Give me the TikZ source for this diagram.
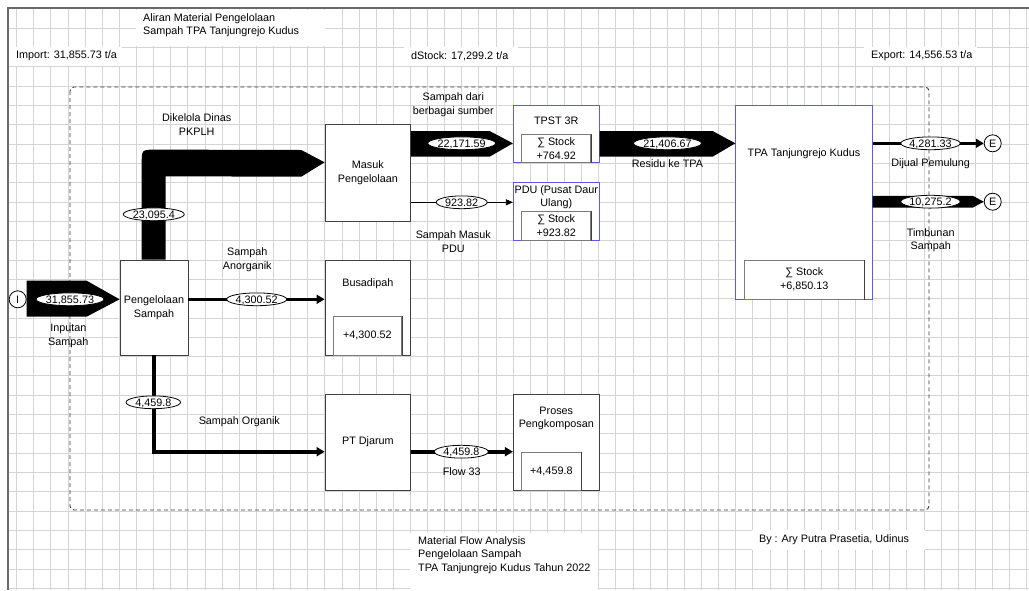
\documentclass[tikz,border=0pt]{standalone}
\usepackage{fontspec}
\setmainfont{Liberation Sans}
\usetikzlibrary{shapes.geometric,arrows.meta,calc}
\definecolor{gridc}{HTML}{D4D4D4}
\definecolor{framec}{HTML}{6A6A6A}
\definecolor{boxc}{HTML}{404040}
\definecolor{bluec}{HTML}{5A5AF0}
\definecolor{stockc}{HTML}{7A7A7A}
\definecolor{bndc}{HTML}{3A3A3A}
\begin{document}
\begin{tikzpicture}[x=1pt,y=-1pt,
  font=\fontsize{10.8}{13.8}\selectfont,
  procbox/.style={draw=boxc,fill=white,line width=0.8pt,inner sep=0pt},
  bluebox/.style={procbox,draw=bluec},
  stockbox/.style={draw=stockc,fill=white,line width=1pt,inner sep=0pt},
  shade/.style={draw=boxc,line width=1.2pt},
  lbl/.style={ellipse,draw=black,fill=white,line width=0.8pt,inner sep=0pt,minimum height=12.8pt,text height=7.6pt,text depth=0pt},
  txt/.style={align=center,inner sep=0pt},
  endpt/.style={circle,draw=black,fill=white,line width=0.8pt,minimum size=17pt,inner sep=0pt},
  thickflow/.style={line width=3.6pt,-{Triangle[length=8pt,width=9pt]}},
  thinflow/.style={line width=0.8pt,-{Triangle[length=7pt,width=6pt]}},
  bnd/.style={draw=bndc,line width=0.9pt,dash pattern=on 4pt off 3pt,rounded corners=4pt}]
\useasboundingbox (0,0) rectangle (1029,590);
\fill[white] (0,0) rectangle (1029,590);
% grid
\foreach \k in {0,...,59} {\draw[gridc,line width=0.9pt] ({16.7+17.12*\k},8) -- ({16.7+17.12*\k},590);}
\foreach \k in {0,...,29} {\draw[gridc,line width=0.9pt] (8,{28.3+19.31*\k}) -- (1029,{28.3+19.31*\k});}
% frame
\draw[framec,line width=1.3pt] (8,590) -- (8,8) -- (1029,8);
% white text boxes
\fill[white] (135.7,10) rectangle (325,45.7);
\node[txt,align=left,anchor=north west] (title) at (143,13) {Aliran Material Pengelolaan\\Sampah TPA Tanjungrejo Kudus};
\fill[white] (9,46.5) rectangle (122,65.5);
\node[txt,anchor=west] (import) at (16,56) {Import: 31,855.73 t/a};
\fill[white] (404,46.5) rectangle (518,65.5);
\node[txt,anchor=west] (dstock) at (411,56) {dStock: 17,299.2 t/a};
\fill[white] (864,46.5) rectangle (977,65.5);
\node[txt,anchor=west] (export) at (871,56) {Export: 14,556.53 t/a};
\fill[white] (410,533) rectangle (598,590);
\node[txt,align=left,anchor=north west] (mfa) at (418,536) {Material Flow Analysis\\Pengelolaan Sampah\\TPA Tanjungrejo Kudus Tahun 2022};
\fill[white] (752,530) rectangle (925,550);
\node[txt] (by) at (834,540) {By : Ary Putra Prasetia, Udinus};
% system boundary
\draw[bnd] (70,87) rectangle (929,510);
% flow positions
\coordinate (f22) at (461.7,143.3);
\coordinate (f21) at (667.5,143.3);
\coordinate (f923) at (461.7,202.3);
\coordinate (f43) at (256.7,299.3);
\coordinate (f33) at (461.3,451.7);
% processes
\node[procbox,minimum width=68pt,minimum height=95pt] (pen) at (154,307.5) {};
\node[procbox,minimum width=85.7pt,minimum height=97pt] (masuk) at (367.85,172.5) {};
\node[procbox,minimum width=85.7pt,minimum height=94.3pt] (busa) at (367.85,307.85) {};
\node[procbox,minimum width=85.7pt,minimum height=95.7pt] (ptd) at (367.85,442.15) {};
\node[procbox,minimum width=86pt,minimum height=95.7pt] (proses) at (556.3,442.15) {};
\node[bluebox,minimum width=86pt,minimum height=57.7pt] (tpst) at (556.3,133.85) {};
\node[bluebox,minimum width=86pt,minimum height=57.7pt] (pdu) at (556.3,211.15) {};
\node[bluebox,minimum width=136.6pt,minimum height=194pt] (tpa) at (804,202) {};
% stock boxes
\node[stockbox,minimum width=68.7pt,minimum height=38.3pt] (sbusa) at (367.35,335.85) {+4,300.52};
\node[stockbox,minimum width=59.3pt,minimum height=37.7pt] (sproses) at (551.35,471.15) {+4,459.8};
\node[stockbox,minimum width=69pt,minimum height=28.4pt,align=center] (stpst) at (556.2,148.5) {∑ Stock\\+764.92};
\node[stockbox,minimum width=69pt,minimum height=28.3pt,align=center] (spdu) at (556.2,225.85) {∑ Stock\\+923.82};
\node[stockbox,minimum width=120pt,minimum height=39pt,align=center] (stpa) at (804.3,279.5) {∑ Stock\\+6,850.13};
\foreach \s in {sbusa,sproses,stpst,spdu,stpa} {\draw[shade] (\s.north east) -- (\s.south east);}
% process titles
\node[txt] at (pen.center) {Pengelolaan\\Sampah};
\node[txt] at (masuk.center) {Masuk\\Pengelolaan};
\node[txt] at (367.85,284) {Busadipah};
\node[txt] at (ptd.center) {PT Djarum};
\node[txt] at (556.3,418.3) {Proses\\Pengkomposan};
\node[txt] at (556.3,120.7) {TPST 3R};
\node[txt] at (556.3,197.2) {PDU (Pusat Daur\\Ulang)};
\node[txt] at (804,153.3) {TPA Tanjungrejo Kudus};
% end points
\node[endpt] (I) at (17.7,299.3) {I};
\node[endpt] (E1) at (992.7,143.3) {E};
\node[endpt] (E2) at (992.7,201.7) {E};
% flows
\fill ($(I.east)+(0,-18.6)$) -- ($(I.east)+(60,-18.6)$) -- (pen.west |- I) -- ($(I.east)+(60,17.4)$) -- ($(I.east)+(0,17.4)$) -- cycle;
\fill ($(pen.north)+(-12.3,0)$) -- ($(pen.north)+(-12.3,-96)$) .. controls ($(pen.north)+(-12.3,-110)$) .. ($(pen.north)+(2,-110)$) -- ($(masuk.west)+(-23.3,-22.5)$) -- ($(masuk.west)+(0,-10.2)$) -- ($(masuk.west)+(-23.3,4.2)$) -- ($(pen.north)+(11.7,-83.3)$) -- ($(pen.north)+(11.7,0)$) -- cycle;
\fill ($(masuk.east |- f22)+(0,-12.3)$) -- ($(tpst.west |- f22)+(-23.3,-12.3)$) -- (tpst.west |- f22) -- ($(tpst.west |- f22)+(-23.3,13.4)$) -- ($(masuk.east |- f22)+(0,13.4)$) -- cycle;
\fill ($(tpst.east |- f21)+(0,-12.3)$) -- ($(tpa.west |- f21)+(-22.7,-12.3)$) -- (tpa.west |- f21) -- ($(tpa.west |- f21)+(-22.7,13.4)$) -- ($(tpst.east |- f21)+(0,13.4)$) -- cycle;
\draw[thickflow] (pen.east |- f43) -- (busa.west |- f43);
\draw[thinflow] (masuk.east |- f923) -- (pdu.west |- f923);
\draw[thickflow] (pen.south) |- (ptd.west |- f33);
\draw[thickflow] (ptd.east |- f33) -- (proses.west |- f33);
\draw[thickflow] (tpa.east |- E1) -- (E1.west);
\fill ($(tpa.east |- E2)+(0,-5.9)$) -- ($(E2.west)+(-11,-5.9)$) -- (E2.west) -- ($(E2.west)+(-11,5.9)$) -- ($(tpa.east |- E2)+(0,5.9)$) -- cycle;
% flow value labels
\node[lbl,minimum width=67pt] (e31) at (70,299.3) {31,855.73};
\node[lbl,minimum width=61pt] (e23) at (153.8,214.3) {23,095.4};
\node[lbl,minimum width=60pt] (e43) at (f43) {4,300.52};
\node[lbl,minimum width=54.5pt] (e44a) at (153.3,402.3) {4,459.8};
\node[lbl,minimum width=54pt] (e44b) at (f33) {4,459.8};
\node[lbl,minimum width=65pt] (e22) at (f22) {22,171.59};
\node[lbl,minimum width=51pt] (e923) at (f923) {923.82};
\node[lbl,minimum width=65pt] (e21) at (f21) {21,406.67};
\node[lbl,minimum width=59pt] (e4281) at (930.5,143.3) {4,281.33};
\node[lbl,minimum width=59pt] (e10) at (930.5,201.7) {10,275.2};
% flow names
\node[txt] at (196.7,124.5) {Dikelola Dinas\\PKPLH};
\node[txt] at (453.3,105) {Sampah dari\\berbagai sumber};
\node[txt] at (453.3,242) {Sampah Masuk\\PDU};
\node[txt] at (667.5,164) {Residu ke TPA};
\node[txt] at (930.7,164) {Dijual Pemulung};
\node[txt] at (930.7,240.3) {Timbunan\\Sampah};
\node[txt] at (247.3,259.7) {Sampah\\Anorganik};
\node[txt] at (68.3,336) {Inputan\\Sampah};
\node[txt] at (239.3,421.7) {Sampah Organik};
\node[txt] at (461.7,471.7) {Flow 33};
\end{tikzpicture}
\end{document}
